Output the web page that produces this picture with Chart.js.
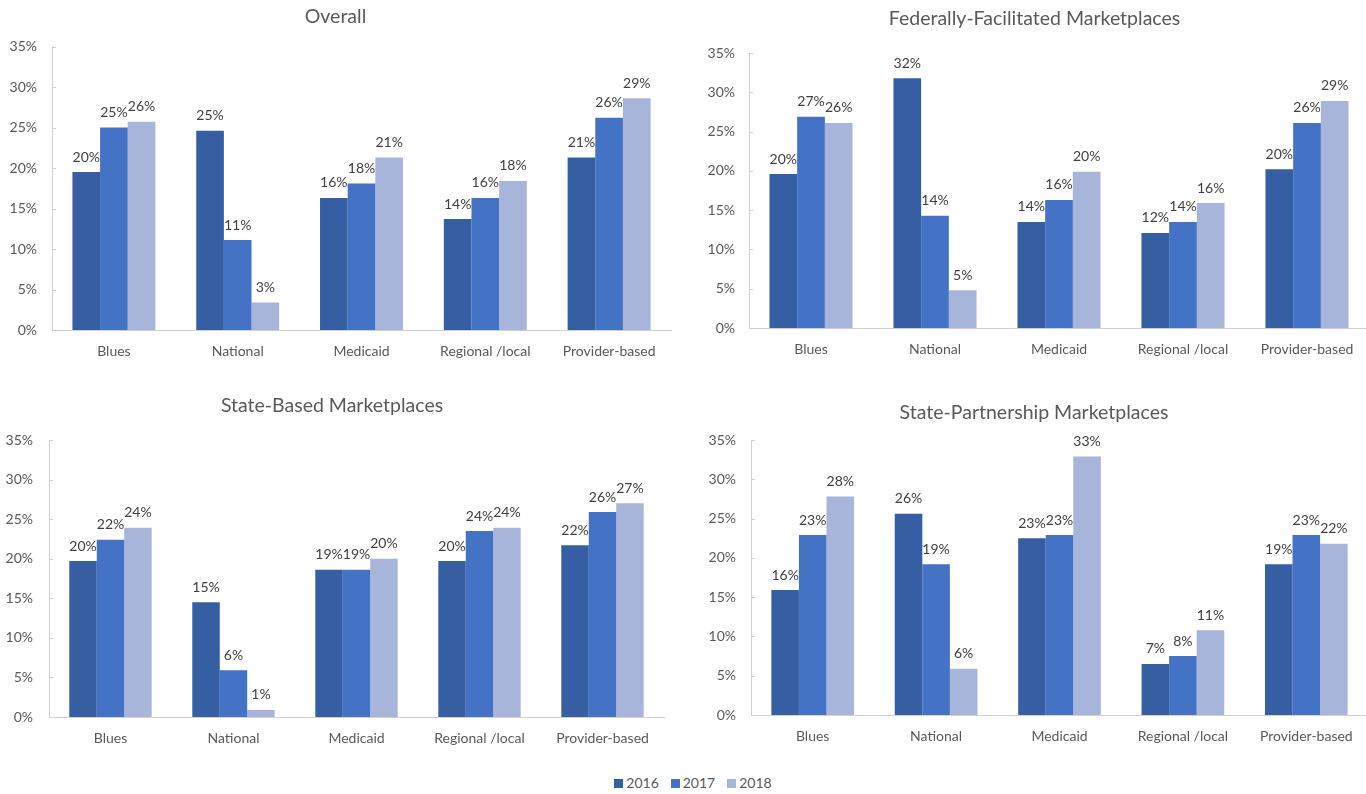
<!DOCTYPE html>
<html>
<head>
    <title>Insurer market share by type</title>
    <script src="https://cdn.jsdelivr.net/npm/chart.js"></script>
    <style>
        body { margin: 0; width: 1366px; height: 794px; overflow: hidden; background: #fff; position: relative; font-family: Lato, sans-serif; }
        canvas { position: absolute; }
        #legend { position: absolute; left: 0; width: 1366px; top: 774px; padding-left: 20px; box-sizing: border-box; text-align: center; font-size: 14px; color: #595959; }
        #legend span.item { display: inline-block; margin: 0 6px; }
        #legend span.box { display: inline-block; width: 9px; height: 9px; margin-right: 3px; vertical-align: 0px; }
    </style>
</head>
<body>

<canvas id="overall_chart" width="676" height="370" style="left:0px;top:0px"></canvas>
<canvas id="ffm_chart" width="688" height="368" style="left:700px;top:0px"></canvas>
<canvas id="sbm_chart" width="686" height="372" style="left:0px;top:385px"></canvas>
<canvas id="spm_chart" width="740" height="370" style="left:700px;top:385px"></canvas>
<div id="legend"></div>

<script>
const categories = ['Blues', 'National', 'Medicaid', 'Regional /local', 'Provider-based'];
const years = ['2016', '2017', '2018'];
const yearColors = ['#365EA3', '#4472C4', '#A8B5DA'];
const yMin = 0, yMax = 35, yStep = 5;

// values in percent
const overall2016 = [19.5, 24.6, 16.3, 13.7, 21.3];
const overall2017 = [25.0, 11.1, 18.1, 16.3, 26.2];
const overall2018 = [25.7, 3.4, 21.3, 18.4, 28.6];

const ffm2016 = [19.6, 31.8, 13.5, 12.1, 20.2];
const ffm2017 = [26.9, 14.3, 16.3, 13.5, 26.1];
const ffm2018 = [26.1, 4.8, 19.9, 15.9, 28.9];

const sbm2016 = [19.7, 14.5, 18.6, 19.7, 21.7];
const sbm2017 = [22.4, 5.9, 18.6, 23.5, 25.9];
const sbm2018 = [23.9, 0.9, 20.0, 23.9, 27.0];

const spm2016 = [15.9, 25.6, 22.5, 6.5, 19.2];
const spm2017 = [22.9, 19.2, 22.9, 7.5, 22.9];
const spm2018 = [27.8, 5.9, 32.9, 10.8, 21.8];

const textColor = '#595959';
const axisColor = '#D0D0D0';
const fontFamily = 'Lato, "Open Sans", sans-serif';

// value labels above the bars + small inner tick marks on the y axis
const barLabels = {
    id: 'barLabels',
    afterDatasetsDraw(chart) {
        const ctx = chart.ctx;
        ctx.save();
        ctx.font = '14px ' + fontFamily;
        ctx.fillStyle = '#404040';
        ctx.textAlign = 'center';
        ctx.textBaseline = 'middle';
        chart.data.datasets.forEach((ds, i) => {
            chart.getDatasetMeta(i).data.forEach((bar, j) => {
                ctx.fillText(Math.round(ds.data[j]) + '%', bar.x, bar.y - 15);
            });
        });
        const y = chart.scales.y;
        ctx.strokeStyle = axisColor;
        ctx.lineWidth = 1;
        y.ticks.forEach(t => {
            const py = Math.round(y.getPixelForValue(t.value)) + 0.5;
            ctx.beginPath();
            ctx.moveTo(y.right, py);
            ctx.lineTo(y.right + 4, py);
            ctx.stroke();
        });
        ctx.restore();
    }
};

function makeChart(id, title, d16, d17, d18, lay) {
    const series = [d16, d17, d18];
    return new Chart(document.getElementById(id), {
        type: 'bar',
        data: {
            labels: categories,
            datasets: years.map((yr, i) => ({
                label: yr,
                data: series[i],
                backgroundColor: yearColors[i],
                borderWidth: 0,
                categoryPercentage: 0.67,
                barPercentage: 1.0
            }))
        },
        options: {
            responsive: false,
            animation: false,
            layout: { padding: { left: 0, right: lay.padRight, top: 0, bottom: 0 } },
            scales: {
                x: {
                    grid: { display: false },
                    border: { display: true, color: axisColor, width: 1 },
                    ticks: { color: textColor, font: { family: fontFamily, size: 14 }, padding: 5, maxRotation: 0 },
                    afterFit(scale) { scale.height = 40; }
                },
                y: {
                    min: yMin,
                    max: yMax,
                    grid: { display: false },
                    border: { display: true, color: axisColor, width: 1 },
                    ticks: {
                        stepSize: yStep,
                        color: textColor,
                        font: { family: fontFamily, size: 14 },
                        padding: lay.yPad,
                        callback: v => v + '%'
                    },
                    afterFit(scale) { scale.width = lay.yWidth; }
                }
            },
            plugins: {
                legend: { display: false },
                tooltip: { enabled: false },
                title: {
                    display: true,
                    text: title,
                    color: textColor,
                    font: { family: fontFamily, size: 19.5, weight: 'normal' },
                    padding: { top: lay.titleTop, bottom: lay.titleBottom }
                }
            }
        },
        plugins: [barLabels]
    });
}

document.addEventListener("DOMContentLoaded", function() {
    makeChart('overall_chart', 'Overall', overall2016, overall2017, overall2018,
        { yWidth: 52, yPad: 7, padRight: 5, titleTop: 5.3, titleBottom: 17.8 });
    makeChart('ffm_chart', 'Federally-Facilitated Marketplaces', ffm2016, ffm2017, ffm2018,
        { yWidth: 49, yPad: 6, padRight: 19, titleTop: 7.3, titleBottom: 22.3 });
    makeChart('sbm_chart', 'State-Based Marketplaces', sbm2016, sbm2017, sbm2018,
        { yWidth: 49, yPad: 8, padRight: 22, titleTop: 9.3, titleBottom: 22.3 });
    makeChart('spm_chart', 'State-Partnership Marketplaces', spm2016, spm2017, spm2018,
        { yWidth: 51, yPad: 7, padRight: 72, titleTop: 16.3, titleBottom: 15.3 });

    const legend = document.getElementById('legend');
    years.forEach((yr, i) => {
        const item = document.createElement('span');
        item.className = 'item';
        const box = document.createElement('span');
        box.className = 'box';
        box.style.background = yearColors[i];
        item.appendChild(box);
        item.appendChild(document.createTextNode(yr));
        legend.appendChild(item);
    });
});
</script>

</body>
</html>
